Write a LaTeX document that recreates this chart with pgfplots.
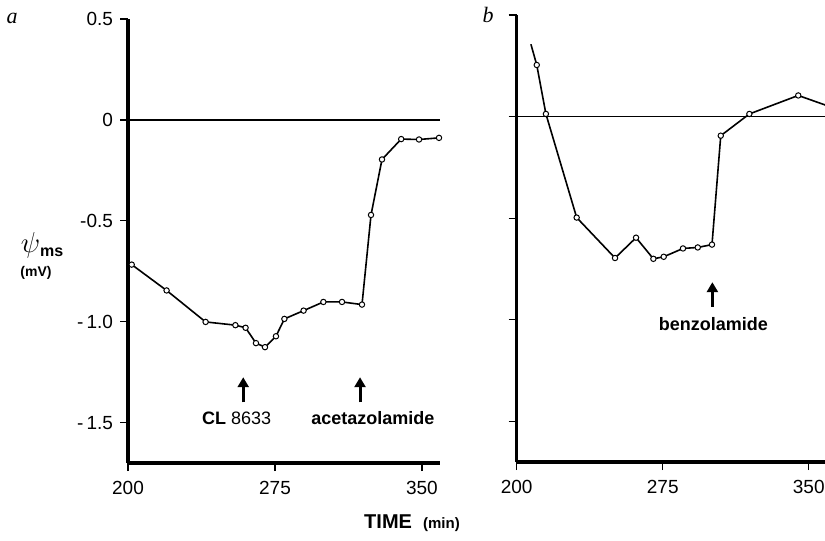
\documentclass[border=0pt]{standalone}
\usepackage{pgfplots}
\pgfplotsset{compat=1.18}
\usepackage{fontspec}
\setmainfont{Liberation Sans}
\newfontfamily\serif{Liberation Serif}
\usetikzlibrary{arrows.meta}

\tikzset{
  note/.style={font=\fontsize{9}{10}\selectfont\bfseries},
  up/.style={-{Triangle[length=5pt,width=5.5pt]}, line width=1.5pt},
}
\pgfplotsset{
  panel/.style={
    scale only axis, clip=false,
    axis x line=bottom, axis y line=left,
    axis line style={-, line width=1.6pt},
    tick align=outside, major tick length=4pt,
    tick style={black, line width=0.6pt},
    xmin=200, ymin=-1.7, ymax=0.5,
    xtick={200,275,350}, xticklabels={200,275,350},
    ytick={-1.5,-1,-0.5,0,0.5},
    ticklabel style={font=\fontsize{9.5}{10}\selectfont},
    xticklabel style={yshift=-1.5pt},
  },
  data/.style={black, line width=0.8pt, mark=*, mark size=1.35pt,
    mark options={fill=white, draw=black, line width=0.5pt}},
}

\begin{document}
\begin{tikzpicture}
\useasboundingbox (0pt,0pt) rectangle (412.5pt,270.5pt);

% panel a
\begin{axis}[panel, at={(64pt,39pt)}, anchor=south west,
  width=155.8pt, height=222pt, xmax=359,
  yticklabels={-\,1.5,-\,1.0,-0.5,0,0.5}]
\draw[line width=0.9pt] (axis cs:200,0) -- (axis cs:359,0);
\addplot[data] coordinates {
  (201.9,-0.717) (219.7,-0.845) (239.6,-1.001) (254.8,-1.017) (260.0,-1.030)
  (265.3,-1.106) (269.9,-1.126) (275.5,-1.072) (279.8,-0.986) (289.6,-0.945)
  (299.7,-0.902) (309.2,-0.902) (319.4,-0.915) (324.0,-0.471) (329.6,-0.196)
  (339.4,-0.095) (348.5,-0.097) (358.7,-0.089)};
\draw[up] (axis cs:258.8,-1.40) -- (axis cs:258.8,-1.275);
\draw[up] (axis cs:318.4,-1.40) -- (axis cs:318.4,-1.275);
\node[note] at (axis cs:255.4,-1.478) {CL \mdseries 8633};
\node[note] at (axis cs:325,-1.478) {acetazolamide};
\end{axis}

% panel b
\begin{axis}[panel, at={(258.35pt,39.5pt)}, anchor=south west,
  width=154.3pt, height=223.5pt, xmax=358.5,
  yticklabels={}]
\draw[line width=0.7pt] (axis cs:200,0) -- (axis cs:362,0);
\addplot[data, mark phase=2] coordinates {
  (207.3,0.356) (210.3,0.254) (215.0,0.013) (230.8,-0.497) (250.5,-0.696)
  (261.3,-0.596) (270.2,-0.700) (275.5,-0.690) (285.4,-0.649) (293.0,-0.644)
  (300.3,-0.630) (304.8,-0.094) (319.5,0.013) (344.6,0.104) (362.0,0.045)};
\draw[up] (axis cs:300.5,-0.935) -- (axis cs:300.5,-0.815);
\node[note] at (axis cs:301,-1.02) {benzolamide};
\end{axis}

\node[font=\fontsize{11}{12}\selectfont\serif\itshape] at (6pt,261.5pt) {a};
\node[font=\fontsize{11}{12}\selectfont\serif\itshape] at (244pt,263pt) {b};
\node at (21pt,148pt) {\fontsize{14}{15}\selectfont$\psi$\raisebox{-0.3ex}{\fontsize{8}{9}\selectfont\bfseries ms}};
\node[font=\fontsize{7}{8}\selectfont\bfseries] at (18pt,134pt) {(mV)};
\node at (206pt,9pt) {\fontsize{10}{11}\selectfont\bfseries TIME\ \ \fontsize{7.5}{8}\selectfont (min)};
\end{tikzpicture}
\end{document}
